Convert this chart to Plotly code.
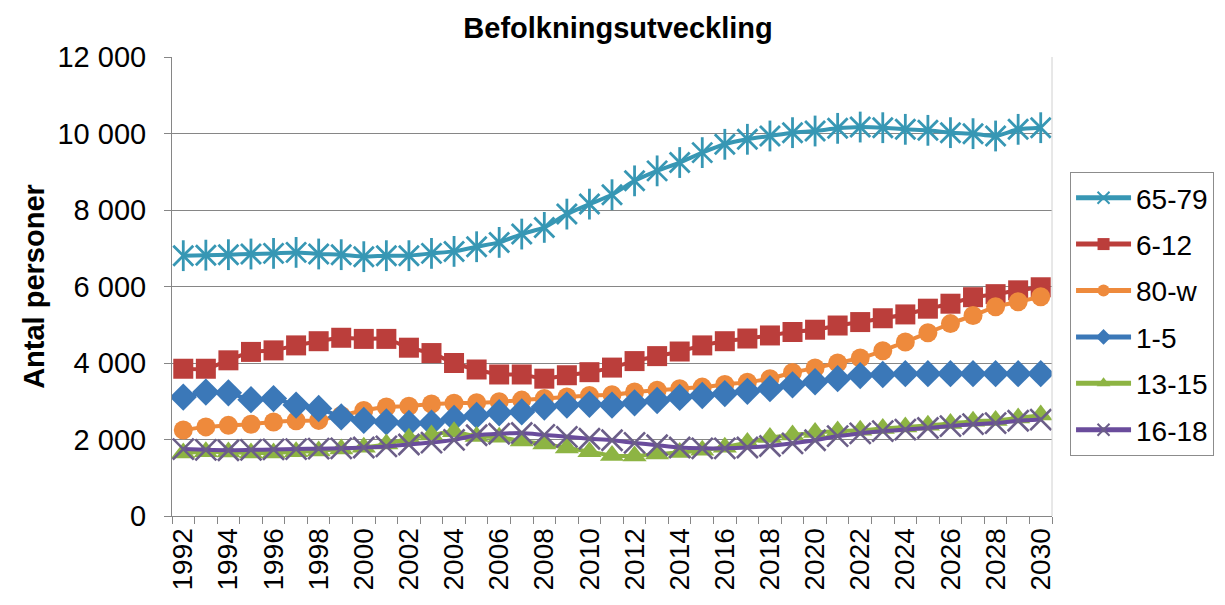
import plotly.graph_objects as go

years = list(range(1992, 2031))
s65_79 = [6806, 6820, 6832, 6850, 6866, 6892, 6850, 6832, 6780, 6806, 6806, 6866, 6918, 7040, 7153, 7371, 7545, 7893, 8154, 8400,
          8762, 9023, 9241, 9500, 9718, 9849, 9935, 10022, 10065, 10135, 10169, 10152, 10109, 10083, 10022, 9996, 9935, 10109, 10152]
s6_12 = [3850, 3850, 4070, 4290, 4330, 4460, 4570, 4660, 4630, 4630, 4400, 4260, 4000, 3830, 3700, 3700, 3590, 3680, 3760, 3880,
         4050, 4180, 4300, 4460, 4570, 4640, 4720, 4810, 4870, 4980, 5070, 5170, 5270, 5420, 5550, 5720, 5800, 5900, 5980]
s80_w = [2250, 2330, 2370, 2400, 2460, 2490, 2500, 2630, 2760, 2850, 2870, 2930, 2950, 2960, 2990, 3030, 3070, 3110, 3150, 3170,
         3240, 3290, 3330, 3370, 3440, 3500, 3590, 3750, 3870, 4000, 4130, 4320, 4550, 4790, 5030, 5240, 5470, 5600, 5730]
s1_5 = [3110, 3240, 3220, 3040, 3070, 2900, 2810, 2590, 2500, 2460, 2420, 2430, 2550, 2630, 2700, 2720, 2850, 2900, 2920, 2900,
        2960, 3020, 3100, 3150, 3200, 3260, 3330, 3430, 3510, 3590, 3670, 3700, 3720, 3720, 3720, 3720, 3720, 3720, 3720]
s13_15 = [1650, 1680, 1670, 1650, 1650, 1680, 1700, 1750, 1800, 1880, 2030, 2120, 2200, 2080, 2060, 1960, 1880, 1780, 1680, 1580,
          1570, 1620, 1660, 1720, 1800, 1920, 2050, 2120, 2180, 2220, 2240, 2290, 2330, 2370, 2420, 2480, 2500, 2560, 2640]
s16_18 = [1750, 1730, 1720, 1730, 1740, 1750, 1760, 1770, 1790, 1820, 1870, 1920, 1990, 2110, 2150, 2170, 2120, 2070, 2020, 1980,
          1910, 1850, 1790, 1770, 1770, 1790, 1830, 1900, 1980, 2090, 2160, 2220, 2260, 2300, 2350, 2400, 2430, 2490, 2520]

x_tick_years = list(range(1992, 2031, 2))
x_tick_labels = [str(y) for y in x_tick_years]
y_tick_vals = [0, 2000, 4000, 6000, 8000, 10000, 12000]
y_tick_labels = ["0", "2 000", "4 000", "6 000", "8 000", "10 000", "12 000"]

FONT = "Liberation Sans, Arial, sans-serif"
LW = 4

fig = go.Figure()

def add(name, vals, color, symbol, size, mline=None, mcolor=None):
    fig.add_trace(go.Scatter(
        x=years, y=vals, name=name, legendgroup=name, mode="lines+markers",
        line=dict(color=color, width=LW, shape="spline", smoothing=0.6),
        marker=dict(symbol=symbol, size=size, color=mcolor or color,
                    line=dict(width=mline if mline else 0, color=mcolor or color)),
    ))

add("65-79", s65_79, "#3797B4", "x-thin-open", 20, 2.8)
fig.add_trace(go.Scatter(
    x=years, y=s65_79, name="65-79", legendgroup="65-79", showlegend=False, mode="markers",
    marker=dict(symbol="line-ns-open", size=22, color="#3797B4", line=dict(width=2.8, color="#3797B4")),
))
add("6-12", s6_12, "#BB3E3B", "square", 20)
add("80-w", s80_w, "#EE8A3C", "circle", 19)
add("1-5", s1_5, "#3B78B8", "diamond", 21)
add("13-15", s13_15, "#8DB443", "triangle-up", 21)
add("16-18", s16_18, "#6A4C9C", "x-thin-open", 21, 2.6, "#6B5E88")
fig.data[-1].line.color = "#6A4C9C"

fig.update_layout(
    width=1225, height=605,
    margin=dict(l=164, r=181, t=49, b=97),
    paper_bgcolor="white", plot_bgcolor="white",
    font=dict(family=FONT, color="black", size=27),
    title=dict(text="<b>Befolkningsutveckling</b>", x=0.498, xref="container", xanchor="center",
               y=1 - 20 / 605, yanchor="middle", yref="container",
               font=dict(family=FONT, size=29, color="black")),
    showlegend=True,
    legend=dict(x=1.0205, y=0.7495, xanchor="left", yanchor="top",
                bordercolor="#8C8C8C", borderwidth=1, bgcolor="white",
                font=dict(family=FONT, size=28, color="black"),
                itemsizing="constant", itemwidth=55, traceorder="grouped", tracegroupgap=7),
)

fig.update_xaxes(
    range=[1991.5, 2030.5], tickmode="array", tickvals=x_tick_years, ticktext=x_tick_labels,
    tickangle=-90, ticks="", showgrid=False, showline=True, linecolor="#868686", linewidth=1,
    tickfont=dict(family=FONT, size=28, color="black"), zeroline=False,
    minor=dict(tickmode="array", tickvals=[y - 0.5 for y in years] + [2030.5],
               ticks="outside", ticklen=7, tickcolor="#868686", showgrid=False),
)
fig.update_yaxes(
    range=[0, 12000], tickmode="array", tickvals=y_tick_vals, ticktext=y_tick_labels,
    ticks="outside", ticklen=7, tickcolor="#868686", showline=True, linecolor="#868686", linewidth=1,
    showgrid=True, gridcolor="#868686", gridwidth=1, zeroline=False,
    tickfont=dict(family=FONT, size=29, color="black"), ticklabelstandoff=12,
    title=dict(text="<b>Antal personer</b>", font=dict(family=FONT, size=29, color="black"), standoff=4),
)
fig.add_shape(type="line", xref="paper", yref="paper", x0=1, x1=1, y0=0, y1=1,
              line=dict(color="#D0D0D0", width=1))

fig.write_html("out.html")
